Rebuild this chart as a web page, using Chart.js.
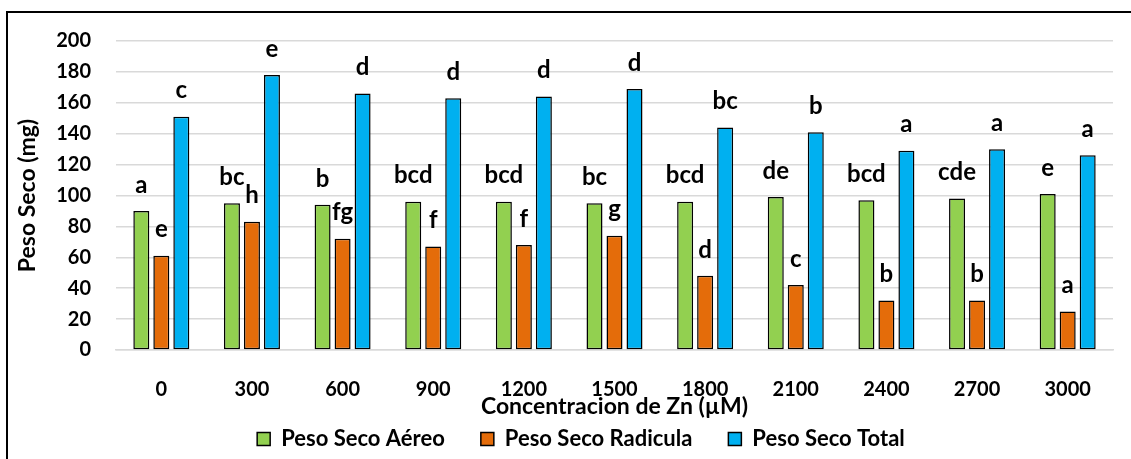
<!DOCTYPE html>
<html>
<head>
<meta charset="utf-8">
<script src="https://cdn.jsdelivr.net/npm/chart.js@4/dist/chart.umd.min.js"></script>
<style>
  html, body { margin: 0; padding: 0; background: #ffffff; }
  #wrap { width: 1131px; height: 459px; position: relative; }
</style>
</head>
<body>
<div id="wrap"><canvas id="c" width="1131" height="459"></canvas></div>
<script>
// Zn concentrations (µM)
const categories = ['0', '300', '600', '900', '1200', '1500', '1800', '2100', '2400', '2700', '3000'];

// Dry weight (mg)
const pesoAereo    = [90, 95, 94, 96, 96, 95, 96, 99, 97, 98, 101];
const pesoRadicula = [61, 83, 72, 67, 68, 74, 48, 42, 32, 32, 25];
const pesoTotal    = [151, 178, 166, 163, 164, 169, 144, 141, 129, 130, 126];

// Significance letters for each series
const letrasAereo    = ['a', 'bc', 'b', 'bcd', 'bcd', 'bc', 'bcd', 'de', 'bcd', 'cde', 'e'];
const letrasRadicula = ['e', 'h', 'fg', 'f', 'f', 'g', 'd', 'c', 'b', 'b', 'a'];
const letrasTotal    = ['c', 'e', 'd', 'd', 'd', 'd', 'bc', 'b', 'a', 'a', 'a'];

const yTicks = [0, 20, 40, 60, 80, 100, 120, 140, 160, 180, 200];

const FONT = 'Lato, "Open Sans", sans-serif';

// Outer frame around the figure
const framePlugin = {
  id: 'frame',
  beforeDraw(chart) {
    const ctx = chart.ctx;
    ctx.save();
    ctx.fillStyle = '#ffffff';
    ctx.fillRect(0, 0, chart.width, chart.height);
    ctx.strokeStyle = '#000000';
    ctx.lineWidth = 2;
    ctx.beginPath();
    ctx.moveTo(7, chart.height + 5);
    ctx.lineTo(7, 12);
    ctx.lineTo(chart.width + 5, 12);
    ctx.stroke();
    ctx.restore();
  }
};

// Letters above every bar
const letterPlugin = {
  id: 'letters',
  afterDatasetsDraw(chart) {
    const ctx = chart.ctx;
    ctx.save();
    ctx.font = 'bold 24px ' + FONT;
    ctx.fillStyle = '#000000';
    ctx.textAlign = 'center';
    ctx.textBaseline = 'middle';
    chart.data.datasets.forEach((ds, di) => {
      const meta = chart.getDatasetMeta(di);
      meta.data.forEach((bar, i) => {
        ctx.fillText(ds.letters[i], bar.x, bar.y - 26);
      });
    });
    ctx.restore();
  }
};

// Place the legend row under the plot
const legendShift = {
  id: 'legendShift',
  afterLayout(chart) {
    const lg = chart.legend;
    if (!lg) return;
    const dx = 581 - (lg.left + lg.right) / 2;
    lg.left += dx;
    lg.right += dx;
    const pad = lg.options.labels.padding;
    const size = lg.options.labels.font.size;
    lg.top = 439 - (pad + size / 2);
    lg.bottom = chart.height;
    lg.height = lg.bottom - lg.top;
  }
};

new Chart(document.getElementById('c'), {
  type: 'bar',
  data: {
    labels: categories,
    datasets: [
      { label: 'Peso Seco Aéreo', data: pesoAereo, letters: letrasAereo, backgroundColor: '#92D050' },
      { label: 'Peso Seco Radicula', data: pesoRadicula, letters: letrasRadicula, backgroundColor: '#E46C0A' },
      { label: 'Peso Seco Total', data: pesoTotal, letters: letrasTotal, backgroundColor: '#00B0F0' }
    ].map(d => Object.assign(d, {
      borderColor: '#000000',
      borderWidth: 1.5,
      borderSkipped: false,
      categoryPercentage: 0.662,
      barPercentage: 0.8
    }))
  },
  options: {
    responsive: false,
    animation: false,
    devicePixelRatio: 1,
    layout: { padding: { top: 41, right: 18, left: 0, bottom: 0 } },
    plugins: {
      tooltip: { enabled: false },
      legend: {
        position: 'bottom',
        maxHeight: 39,
        labels: {
          font: { family: FONT, size: 22, weight: 'bold' },
          color: '#000000',
          boxWidth: 13,
          boxHeight: 13,
          padding: 36,
          generateLabels(chart) {
            return chart.data.datasets.map((d, i) => ({
              text: d.label,
              fillStyle: d.backgroundColor,
              strokeStyle: '#000000',
              lineWidth: 1.5,
              datasetIndex: i
            }));
          }
        }
      }
    },
    scales: {
      x: {
        grid: { display: false, drawTicks: false },
        border: { display: true, color: '#D9D9D9', width: 1.5 },
        ticks: {
          font: { family: FONT, size: 20, weight: 'bold' },
          color: '#000000',
          padding: 28,
          maxRotation: 0,
          autoSkip: false
        },
        title: {
          display: true,
          text: 'Concentracion de Zn (µM)',
          font: { family: FONT, size: 23, weight: 'bold' },
          color: '#000000',
          padding: { top: 0, bottom: 0 }
        },
        afterFit(s) { s.height = 70; }
      },
      y: {
        min: 0,
        max: 200,
        afterBuildTicks(s) { s.ticks = yTicks.map(v => ({ value: v })); },
        grid: { color: '#D9D9D9', lineWidth: 1.5, drawTicks: false },
        border: { display: false },
        ticks: {
          font: { family: FONT, size: 20, weight: 'bold' },
          color: '#000000',
          padding: 25
        },
        title: {
          display: true,
          text: 'Peso Seco (mg)',
          font: { family: FONT, size: 23, weight: 'bold' },
          color: '#000000',
          padding: { top: 14, bottom: 0 }
        },
        afterFit(s) { s.width = 116; }
      }
    }
  },
  plugins: [framePlugin, letterPlugin, legendShift]
});
</script>
</body>
</html>
